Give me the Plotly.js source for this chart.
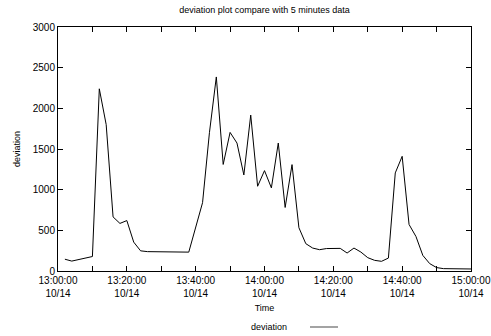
<!DOCTYPE html>
<html>
<head>
<meta charset="utf-8">
<script src="https://cdn.plot.ly/plotly-3.0.1.min.js"></script>
<style>html,body{margin:0;padding:0;background:#fff;}#chart{width:491px;height:336px;}</style>
</head>
<body>
<div id="chart"></div>
<script>
// minutes after 13:00:00 on 10/14
var minutes = [2,4,10,12,14,16,18,20,22,24,26,28,30,32,34,36,38,42,44,46,48,50,52,54,56,58,60,62,64,66,68,70,72,74,76,78,80,82,84,86,88,90,92,94,96,98,100,102,104,106,108,110,112,114,116,118,120];
var deviation = [145,122,178,2240,1800,665,585,620,355,248,238,237,236,235,234,233,232,840,1700,2386,1310,1704,1573,1181,1917,1042,1234,1022,1573,781,1308,532,336,282,262,276,278,278,221,282,233,164,131,119,159,1206,1410,572,425,192,91,42,29,29,33,25,25];
var seriesName = "deviation";
var titleText = "deviation plot compare with 5 minutes data";
var xTitle = "Time";
var yTitle = "deviation";

function toTime(m){
  var d = new Date(Date.UTC(2023,9,14,13,0,0) + m*60000);
  var p = function(n){return (n<10?'0':'')+n;};
  return d.getUTCFullYear()+'-'+p(d.getUTCMonth()+1)+'-'+p(d.getUTCDate())+' '+p(d.getUTCHours())+':'+p(d.getUTCMinutes())+':'+p(d.getUTCSeconds());
}
var xs = minutes.map(toTime);

var fam = 'Liberation Sans, Arial, sans-serif';
var font = {family: fam, size: 10, color: '#000'};
var small = {family: fam, size: 9, color: '#000'};
var trace = {x: xs, y: deviation, type: 'scatter', mode: 'lines', name: seriesName,
  line: {color: '#000', width: 1}, showlegend: false};

var W = 491, H = 336, ml = 58, mr = 20, mt = 27, mb = 65;
var pw = W - ml - mr, ph = H - mt - mb;
function px(x){ return (x - ml) / pw; }
function py(y){ return (H - mb - y) / ph; }

var layout = {
  width: W, height: H,
  margin: {l: ml, r: mr, t: mt, b: mb, autoexpand: false},
  paper_bgcolor: '#fff', plot_bgcolor: '#fff',
  font: font,
  showlegend: false,
  title: {text: titleText, font: small, xref: 'paper', x: 0.5, xanchor: 'center', yref: 'container', y: 1 - 10/336, yanchor: 'middle'},
  xaxis: {
    type: 'date',
    range: ['2023-10-14 13:00:00', '2023-10-14 15:00:00'],
    tickmode: 'linear', tick0: '2023-10-14 13:00:00', dtick: 20*60000,
    tickformat: '%H:%M:%S<br>%m/%d',
    ticks: 'inside', ticklen: 5, tickcolor: '#000', tickwidth: 1,
    minor: {dtick: 10*60000, ticks: 'inside', ticklen: 5, tickcolor: '#000', showgrid: false},
    showline: true, linecolor: '#000', linewidth: 1, mirror: 'ticks',
    showgrid: false, zeroline: false,
    tickfont: font,
    title: {text: xTitle, font: small, standoff: 6}
  },
  yaxis: {
    range: [0, 3000], tickmode: 'linear', tick0: 0, dtick: 500,
    ticks: 'inside', ticklen: 5, tickcolor: '#000', tickwidth: 1,
    showline: true, linecolor: '#000', linewidth: 1, mirror: 'ticks',
    showgrid: false, zeroline: false,
    tickfont: font,
    title: {text: yTitle, font: small, standoff: 10}
  },
  annotations: [{
    text: seriesName, xref: 'paper', yref: 'paper', x: px(289), y: py(327),
    xanchor: 'right', yanchor: 'middle', showarrow: false, font: small
  }],
  shapes: [{
    type: 'line', xref: 'paper', yref: 'paper', x0: px(310), x1: px(338), y0: py(327), y1: py(327),
    line: {color: '#666', width: 1.2}
  }]
};
Plotly.newPlot('chart', [trace], layout, {displayModeBar: false, staticPlot: true});
</script>
</body>
</html>
